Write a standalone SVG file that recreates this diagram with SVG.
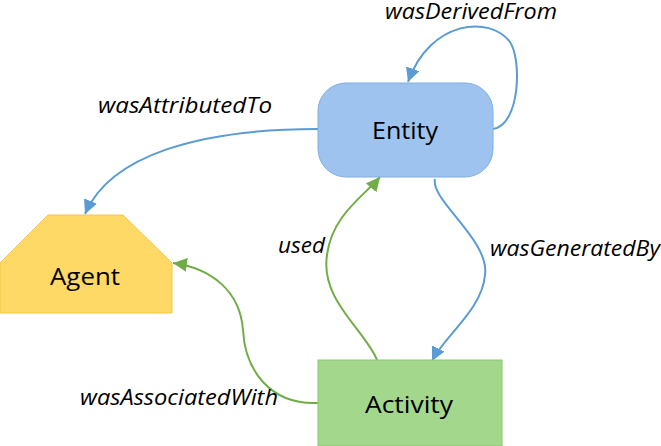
<svg xmlns="http://www.w3.org/2000/svg" width="661" height="446" viewBox="0 0 661 446">
<style>
.lbl{font-family:"Open Sans","Liberation Sans",sans-serif;font-style:italic;font-size:22px;fill:#000}
.nt{font-family:"Open Sans","Liberation Sans",sans-serif;font-size:24px;fill:#000}
.cb{fill:none;stroke:#5B9BD5;stroke-width:2}
.cg{fill:none;stroke:#70AD47;stroke-width:2}
</style>
<defs>
<marker id="ab" markerUnits="userSpaceOnUse" markerWidth="16" markerHeight="14" refX="14" refY="7" orient="auto">
<path d="M0,0 L14,7 L0,14 Z" fill="#5B9BD5"/>
</marker>
<marker id="ag" markerUnits="userSpaceOnUse" markerWidth="16" markerHeight="14" refX="14" refY="7" orient="auto">
<path d="M0,0 L14,7 L0,14 Z" fill="#70AD47"/>
</marker>
</defs>
<g id="connectors">
<path class="cb" d="M493,129 C520,125 522,60 510,42 C490,15 430,20 408,82" marker-end="url(#ab)"/>
<path class="cb" d="M318,129 C200,129 110,155 85,214" marker-end="url(#ab)"/>
<path class="cb" d="M435,179 C430,200 490,240 485,275 C482,310 445,335 432,361" marker-end="url(#ab)"/>
<path class="cg" d="M377,360 C365,330 320,300 327,255 C332,215 365,195 380,177" marker-end="url(#ag)"/>
<path class="cg" d="M318,403 C270,405 245,370 243,330 C240,290 210,268 173,263" marker-end="url(#ag)"/>
</g>
<g id="entity">
<rect x="318" y="83" width="175" height="94" rx="28" ry="28" fill="#9DC3EE" stroke="#7FAEE0" stroke-width="1"/>
<text class="nt" x="372" y="139" textLength="66" lengthAdjust="spacingAndGlyphs">Entity</text>
</g>
<g id="agent">
<polygon points="48,215 123,215 172,263 172,313 0,313 0,263" fill="#FFD966" stroke="#F2C84B" stroke-width="1"/>
<text class="nt" x="50" y="285" textLength="70" lengthAdjust="spacingAndGlyphs">Agent</text>
</g>
<g id="activity">
<rect x="318" y="360" width="184" height="86" fill="#A3D78B" stroke="#8CC872" stroke-width="1"/>
<text class="nt" x="365" y="413" textLength="88" lengthAdjust="spacingAndGlyphs">Activity</text>
</g>
<g id="labels">
<text class="lbl" x="385" y="19" textLength="172" lengthAdjust="spacingAndGlyphs">wasDerivedFrom</text>
<text class="lbl" x="98" y="113" textLength="174" lengthAdjust="spacingAndGlyphs">wasAttributedTo</text>
<text class="lbl" x="278" y="253" textLength="47" lengthAdjust="spacingAndGlyphs">used</text>
<text class="lbl" x="490" y="256" textLength="170" lengthAdjust="spacingAndGlyphs">wasGeneratedBy</text>
<text class="lbl" x="80" y="405" textLength="198" lengthAdjust="spacingAndGlyphs">wasAssociatedWith</text>
</g>
</svg>
